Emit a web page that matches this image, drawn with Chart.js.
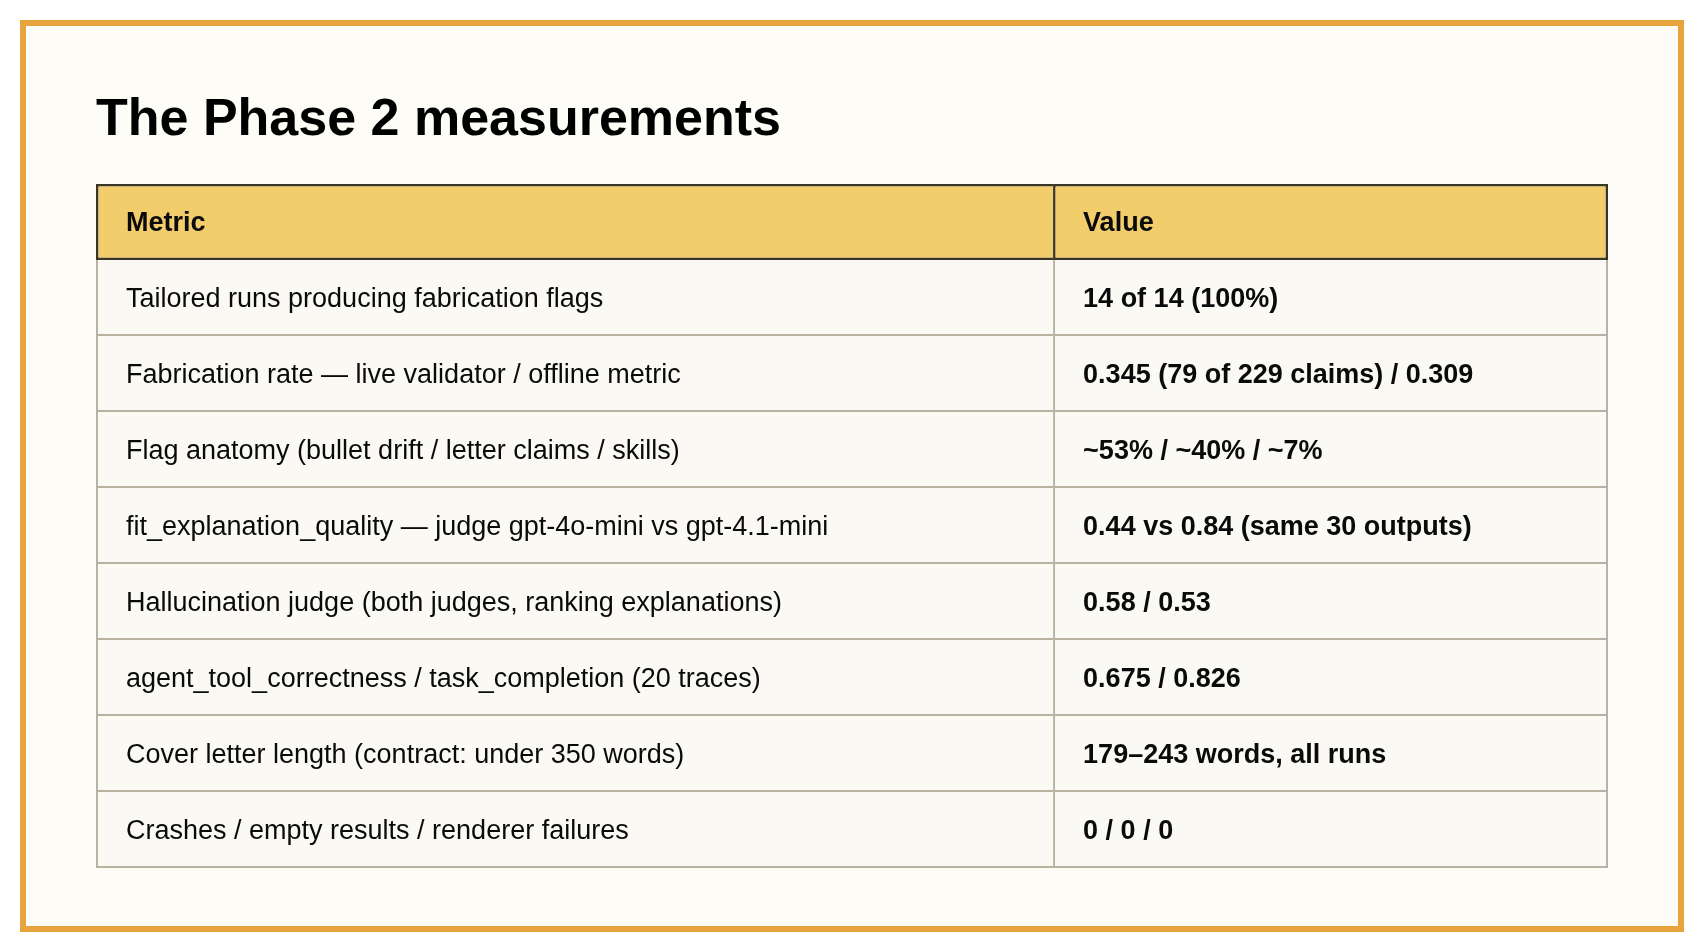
<!DOCTYPE html>
<html>
<head>
<meta charset="utf-8">
<title>The Phase 2 measurements</title>
<script src="https://cdn.jsdelivr.net/npm/chart.js@4"></script>
<style>
  html, body { margin: 0; padding: 0; background: #ffffff; }
  #cv { width: 1704px; height: 952px; }
</style>
</head>
<body>
<div id="cv"><canvas id="c" width="1704" height="952"></canvas></div>
<script>
// table content
var title = "The Phase 2 measurements";
var headers = ["Metric", "Value"];
var metrics = [
  "Tailored runs producing fabrication flags",
  "Fabrication rate \u2014 live validator / offline metric",
  "Flag anatomy (bullet drift / letter claims / skills)",
  "fit_explanation_quality \u2014 judge gpt-4o-mini vs gpt-4.1-mini",
  "Hallucination judge (both judges, ranking explanations)",
  "agent_tool_correctness / task_completion (20 traces)",
  "Cover letter length (contract: under 350 words)",
  "Crashes / empty results / renderer failures"
];
var values = [
  "14 of 14 (100%)",
  "0.345 (79 of 229 claims) / 0.309",
  "~53% / ~40% / ~7%",
  "0.44 vs 0.84 (same 30 outputs)",
  "0.58 / 0.53",
  "0.675 / 0.826",
  "179\u2013243 words, all runs",
  "0 / 0 / 0"
];

// layout: share of table width per column (percent)
var colShare = [63.3, 36.7];
var FONT = '"Liberation Sans", Arial, Helvetica, sans-serif';

var rows = [headers[0]].concat(metrics);

function cellBorder(ctx) {
  var w = ctx.dataIndex == 0 ? 2.5 : 2;
  var last = ctx.datasetIndex == 1;
  if (ctx.dataIndex == 0) return { top: w, bottom: w, left: w, right: last ? w : 0 };
  return { top: 0, bottom: w, left: w, right: last ? w : 0 };
}

var datasets = [];
for (var d = 0; d < 2; d++) {
  var col = [];
  for (var i = 0; i < rows.length; i++) col.push(colShare[d]);
  datasets.push({
    label: headers[d],
    data: col,
    backgroundColor: function (ctx) { return ctx.dataIndex == 0 ? '#f2cd6b' : '#fbf9f3'; },
    borderColor: function (ctx) { return ctx.dataIndex == 0 ? '#3b3526' : '#b9b2a3'; },
    borderWidth: cellBorder,
    borderSkipped: false,
    inflateAmount: 0,
    categoryPercentage: 1,
    barPercentage: 1
  });
}

var tablePlugin = {
  id: 'tableText',
  beforeDraw: function (chart) {
    var c = chart.ctx;
    c.save();
    c.fillStyle = '#ffffff';
    c.fillRect(0, 0, chart.width, chart.height);
    c.fillStyle = '#fdfcf7';
    c.fillRect(20, 20, 1664, 912);
    c.strokeStyle = '#e8a43c';
    c.lineWidth = 6;
    c.strokeRect(23, 23, 1658, 906);
    c.restore();
  },
  afterDatasetsDraw: function (chart) {
    var c = chart.ctx;
    c.save();
    c.fillStyle = '#0a0a0a';
    c.textBaseline = 'middle';
    c.textAlign = 'left';
    for (var d = 0; d < 2; d++) {
      var meta = chart.getDatasetMeta(d);
      meta.data.forEach(function (bar, i) {
        var txt = i == 0 ? headers[d] : (d == 0 ? metrics[i - 1] : values[i - 1]);
        var bold = (i == 0 || d == 1);
        c.font = (bold ? 'bold ' : '') + '27px ' + FONT;
        c.fillText(txt, Math.min(bar.x, bar.base) + 30, bar.y + 2);
      });
    }
    // heading above the table
    var area = chart.chartArea;
    c.textBaseline = 'alphabetic';
    c.font = 'bold 52px ' + FONT;
    c.fillStyle = '#000000';
    c.fillText(title, area.left, area.top - 49);
    c.restore();
  }
};

var ctx = document.getElementById('c').getContext('2d');
var chart = new Chart(ctx, {
  type: 'bar',
  data: { labels: rows, datasets: datasets },
  options: {
    responsive: false,
    animation: false,
    indexAxis: 'y',
    layout: { padding: { left: 96, right: 96, top: 184, bottom: 84 } },
    scales: {
      x: { stacked: true, min: 0, max: 100, display: false },
      y: { stacked: true, display: false }
    },
    plugins: {
      legend: { display: false },
      tooltip: { enabled: false },
      title: { display: false }
    }
  },
  plugins: [tablePlugin]
});
</script>
</body>
</html>
